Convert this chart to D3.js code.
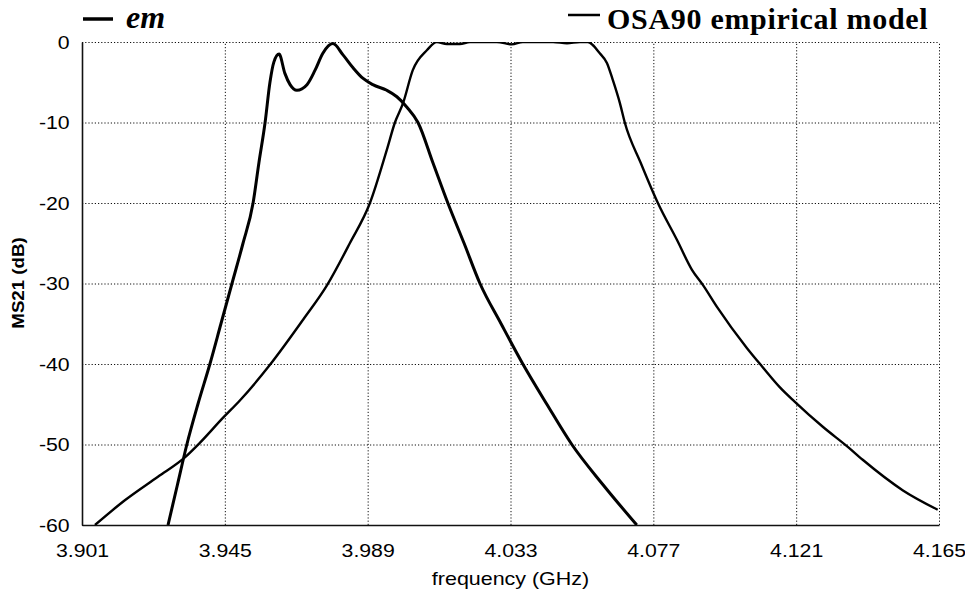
<!DOCTYPE html>
<html>
<head>
<meta charset="utf-8">
<script src="https://cdn.jsdelivr.net/npm/d3@7"></script>
<style>
  body { margin: 0; background: #fff; }
  svg { display: block; }
  .grid line { stroke: #111; stroke-width: 1; stroke-dasharray: 1.2, 2; }
  .grid path { display: none; }
  .axis text { font-family: "Liberation Sans", Arial, sans-serif; font-size: 19px; fill: #000; }
</style>
</head>
<body>
<svg id="chart" width="965" height="594"></svg>
<script>
// x ticks (GHz) and y ticks (dB)
const xTicks = [3.901, 3.945, 3.989, 4.033, 4.077, 4.121, 4.165];
const yTicks = [0, -10, -20, -30, -40, -50, -60];

// em curve
const emFreq = [3.9275, 3.9304, 3.9333, 3.9367, 3.9404, 3.9438, 3.9472, 3.9506, 3.9537, 3.9555,
  3.9574, 3.9589, 3.9601, 3.9617, 3.9635, 3.9651, 3.9672, 3.9703, 3.9728, 3.9752,
  3.9783, 3.9814, 3.9845, 3.9875, 3.9906, 3.9949, 3.9980, 4.0011, 4.0045, 4.0091,
  4.0137, 4.0187, 4.0236, 4.0301, 4.0368, 4.0442, 4.0519, 4.0615, 4.0719];
const emDb = [-60, -55, -50, -45, -40, -35, -30, -25, -20, -15,
  -10, -5, -2.5, -1.5, -3.9, -5.3, -6.0, -5.3, -3.5, -1.4,
  -0.2, -1.6, -3.2, -4.5, -5.3, -6.0, -6.8, -8.1, -10, -15,
  -20, -25, -30, -35, -40, -45, -50, -55, -60];

// OSA90 empirical model curve
const osaFreq = [3.9050, 3.9143, 3.9244, 3.9327, 3.9373, 3.9444, 3.9497, 3.9589, 3.9691, 3.9765,
  3.9835, 3.9897, 3.9949, 3.9974, 3.9999, 4.0029, 4.0073, 4.0103, 4.0134, 4.0174,
  4.0205, 4.0288, 4.0334, 4.0368, 4.0461, 4.0504, 4.0544, 4.0568, 4.0605, 4.0627,
  4.0645, 4.0667, 4.0682, 4.0731, 4.0784, 4.0843, 4.0889, 4.0923, 4.0966, 4.1058,
  4.1107, 4.1160, 4.1206, 4.1292, 4.1369, 4.1415, 4.1539, 4.1646];
const osaDb = [-60, -56.9, -54.0, -51.6, -49.8, -46.7, -44.5, -40.1, -34.5, -30.2,
  -25.0, -20.0, -13.4, -10.0, -7.6, -3.5, -1.0, 0, -0.25, -0.25,
  0, 0, -0.3, 0, 0, -0.15, 0, 0, -1.4, -2.6,
  -4.7, -7.6, -10.0, -15.0, -20.0, -24.6, -28.3, -30.2, -32.9, -38.0,
  -40.4, -42.9, -44.7, -47.8, -50.3, -51.9, -55.7, -58.1];

let svg = d3.select("#chart");
let margin = {left: 82, top: 42, right: 26, bottom: 69};
let width = +svg.attr("width") - margin.left - margin.right;
let height = +svg.attr("height") - margin.top - margin.bottom;

let x = d3.scaleLinear().domain([3.901, 4.165]).range([0, width]);
let y = d3.scaleLinear().domain([-60, 0]).range([height, 0]);

let g = svg.append("g").attr("transform", `translate(${margin.left}, ${margin.top})`);

// dotted grid
g.append("g")
  .attr("class", "grid")
  .attr("transform", `translate(0, ${height})`)
  .call(d3.axisBottom(x).tickValues(xTicks).tickSize(-height).tickFormat(""));
g.append("g")
  .attr("class", "grid")
  .call(d3.axisLeft(y).tickValues(yTicks).tickSize(-width).tickFormat(""));

// solid left + bottom axes
let xAxis = g.append("g")
  .attr("class", "axis")
  .attr("transform", `translate(0, ${height})`)
  .call(d3.axisBottom(x).tickValues(xTicks).tickSize(0).tickSizeOuter(0).tickPadding(19)
    .tickFormat((d) => d.toFixed(3)));
xAxis.select(".domain").attr("stroke", "#111").attr("stroke-width", 1.6);
xAxis.selectAll("text").attr("transform", "scale(1.12,1)");

let yAxis = g.append("g")
  .attr("class", "axis")
  .call(d3.axisLeft(y).tickValues(yTicks).tickSize(0).tickSizeOuter(0).tickPadding(11)
    .tickFormat((d) => String(d)));
yAxis.select(".domain").attr("stroke", "#111").attr("stroke-width", 1.6);
yAxis.selectAll("text").attr("transform", "scale(1.12,1)");

// curves
g.append("clipPath").attr("id", "clip")
  .append("rect").attr("width", width + 1).attr("height", height);

let line = d3.line()
  .x((d) => x(d[0]))
  .y((d) => y(d[1]))
  .curve(d3.curveMonotoneX);

let osaData = osaFreq.map((f, i) => [f, osaDb[i]]);
let emData = emFreq.map((f, i) => [f, emDb[i]]);

g.append("path")
  .attr("clip-path", "url(#clip)")
  .attr("d", line(osaData))
  .attr("fill", "none")
  .attr("stroke", "#000")
  .attr("stroke-width", 2.4)
  .attr("stroke-linejoin", "round");

g.append("path")
  .attr("clip-path", "url(#clip)")
  .attr("d", line(emData))
  .attr("fill", "none")
  .attr("stroke", "#000")
  .attr("stroke-width", 3)
  .attr("stroke-linejoin", "round");

// axis titles
svg.append("text")
  .attr("transform", `translate(${margin.left + width / 2}, 585) scale(1.16,1)`)
  .attr("text-anchor", "middle")
  .style("font-family", "Liberation Sans, Arial, sans-serif")
  .style("font-size", "18.5px")
  .text("frequency (GHz)");

svg.append("text")
  .attr("transform", `translate(24, 283) rotate(-90) scale(1.1,1)`)
  .attr("text-anchor", "middle")
  .style("font-family", "Liberation Sans, Arial, sans-serif")
  .style("font-size", "17px")
  .style("font-weight", "bold")
  .text("MS21 (dB)");

// legends
svg.append("line")
  .attr("x1", 83).attr("x2", 113).attr("y1", 19).attr("y2", 19)
  .attr("stroke", "#000").attr("stroke-width", 3.5);
svg.append("text")
  .attr("x", 126).attr("y", 28)
  .style("font-family", "Liberation Serif, Times New Roman, serif")
  .style("font-size", "32px")
  .style("font-weight", "bold")
  .style("font-style", "italic")
  .text("em");

svg.append("line")
  .attr("x1", 568).attr("x2", 600).attr("y1", 15).attr("y2", 15)
  .attr("stroke", "#000").attr("stroke-width", 2.5);
svg.append("text")
  .attr("x", 607).attr("y", 29)
  .style("font-family", "Liberation Serif, Times New Roman, serif")
  .style("font-size", "30px")
  .style("font-weight", "bold")
  .style("letter-spacing", "0.7px")
  .text("OSA90 empirical model");
</script>
</body>
</html>
